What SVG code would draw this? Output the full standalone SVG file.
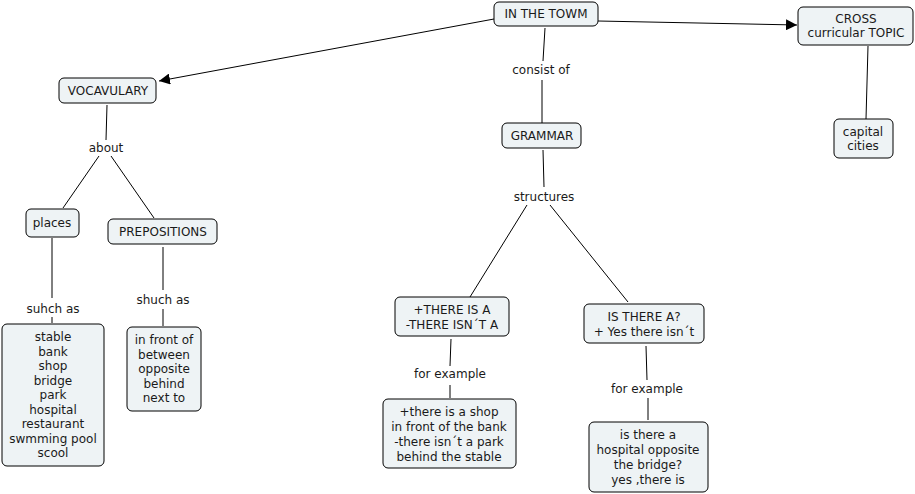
<svg xmlns="http://www.w3.org/2000/svg" width="915" height="494" viewBox="0 0 915 494">
<defs>
<style>
.n rect{fill:#eef3f5;stroke:#000;stroke-width:1}
text{font-family:"DejaVu Sans",Verdana,sans-serif;font-size:12px;fill:#1a1a1a;text-anchor:middle}
.c line{stroke:#000;stroke-width:1}
</style>
<marker id="ah" viewBox="0 0 10 10" refX="10" refY="5" markerWidth="11" markerHeight="11" markerUnits="userSpaceOnUse" orient="auto"><path d="M0,0L10,5L0,10z" fill="#000"/></marker>
</defs>
<rect width="915" height="494" fill="#fff"/>
<g class="c">
<line x1="494" y1="19" x2="159" y2="81" marker-end="url(#ah)"/>
<line x1="598" y1="21" x2="797" y2="25" marker-end="url(#ah)"/>
<line x1="545" y1="28" x2="543" y2="61"/>
<line x1="542" y1="80" x2="542" y2="123"/>
<line x1="543" y1="150" x2="544" y2="187"/>
<line x1="527" y1="205" x2="470" y2="297"/>
<line x1="550" y1="205" x2="628" y2="302"/>
<line x1="868" y1="46" x2="866" y2="119"/>
<line x1="107" y1="105" x2="106" y2="140"/>
<line x1="99" y1="156" x2="63" y2="208"/>
<line x1="111" y1="156" x2="154" y2="218"/>
<line x1="52" y1="238" x2="52" y2="298"/>
<line x1="52" y1="317" x2="52" y2="323"/>
<line x1="163" y1="247" x2="163" y2="290"/>
<line x1="163" y1="309" x2="163" y2="326"/>
<line x1="451" y1="339" x2="450" y2="366"/>
<line x1="450" y1="385" x2="450" y2="398"/>
<line x1="646" y1="346" x2="647" y2="380"/>
<line x1="648" y1="398" x2="648" y2="420"/>
<text x="541" y="74">consist of</text>
<text x="544" y="201">structures</text>
<text x="106" y="152">about</text>
<text x="53" y="313">suhch as</text>
<text x="163" y="304">shuch as</text>
<text x="450" y="378">for example</text>
<text x="647" y="393">for example</text>
</g>
<g class="n" id="town"><rect x="494" y="2" width="104" height="24" rx="5"/><text x="546" y="18">IN THE TOWM</text></g>
<g class="n" id="cross"><rect x="798" y="7" width="115" height="38" rx="5"/><text x="856" y="23">CROSS</text><text x="856" y="37">curricular TOPIC</text></g>
<g class="n" id="grammar"><rect x="502" y="123" width="79" height="25" rx="5"/><text x="542" y="140">GRAMMAR</text></g>
<g class="n" id="capital"><rect x="834" y="119" width="59" height="39" rx="5"/><text x="863" y="136">capital</text><text x="863" y="150">cities</text></g>
<g class="n" id="vocab"><rect x="59" y="78" width="97" height="25" rx="5"/><text x="108" y="95">VOCAVULARY</text></g>
<g class="n" id="places"><rect x="26" y="209" width="53" height="28" rx="5"/><text x="52" y="227">places</text></g>
<g class="n" id="prepositions"><rect x="108" y="219" width="109" height="25" rx="5"/><text x="163" y="236">PREPOSITIONS</text></g>
<g class="n" id="placelist"><rect x="2" y="324" width="102" height="142" rx="5"/>
<text x="53" y="341">stable</text><text x="53" y="355.5">bank</text><text x="53" y="370">shop</text><text x="53" y="384.5">bridge</text><text x="53" y="399">park</text><text x="53" y="413.5">hospital</text><text x="53" y="428">restaurant</text><text x="53" y="442.5">swmming pool</text><text x="53" y="457">scool</text></g>
<g class="n" id="preplist"><rect x="127" y="327" width="74" height="84" rx="5"/>
<text x="164" y="344">in front of</text><text x="164" y="358.5">between</text><text x="164" y="373">opposite</text><text x="164" y="387.5">behind</text><text x="164" y="402">next to</text></g>
<g class="n" id="thereis"><rect x="395" y="297" width="114" height="39" rx="5"/><text x="452" y="314">+THERE IS A</text><text x="452" y="329">-THERE ISN´T A</text></g>
<g class="n" id="isthere"><rect x="584" y="304" width="120" height="39" rx="5"/><text x="644" y="321">IS THERE A?</text><text x="644" y="336">+ Yes there isn´t</text></g>
<g class="n" id="example1"><rect x="383" y="399" width="133" height="69" rx="5"/><text x="449" y="416">+there is a shop</text><text x="449" y="431">in front of the bank</text><text x="449" y="446">-there isn´t a park</text><text x="449" y="461">behind the stable</text></g>
<g class="n" id="example2"><rect x="589" y="422" width="119" height="70" rx="5"/><text x="648" y="439">is there a</text><text x="648" y="454">hospital opposite</text><text x="648" y="469">the bridge?</text><text x="648" y="484">yes ,there is</text></g>
</svg>
